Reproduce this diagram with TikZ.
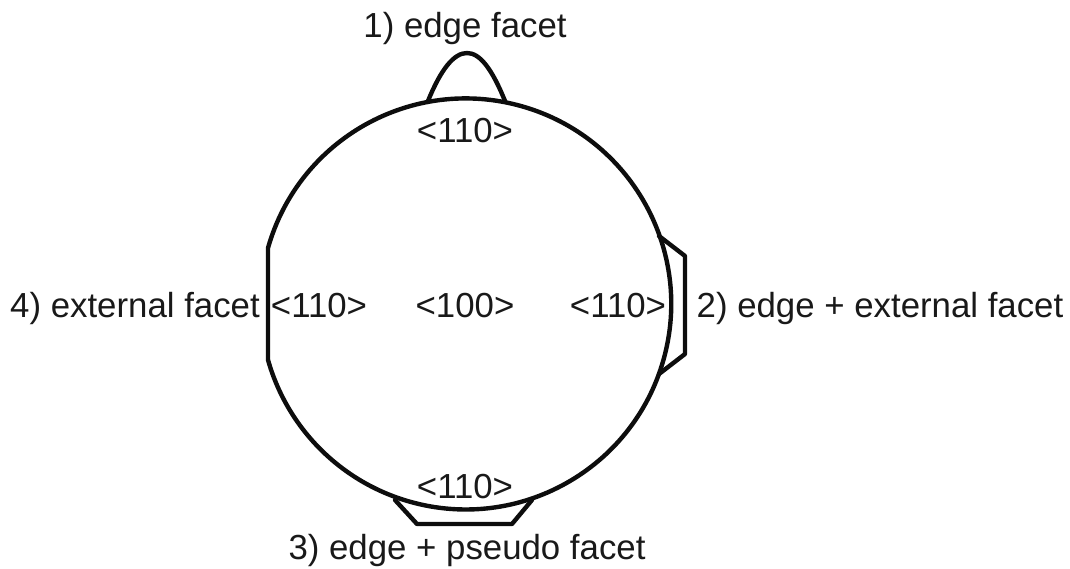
\documentclass[tikz,border=0pt]{standalone}
\usepackage{fontspec}
\setmainfont{Liberation Sans}
\tikzset{
  facet/.style={line width=4.4pt,line join=round,line cap=round,black!95},
  lab/.style={font=\fontsize{34.8}{38}\selectfont,text=black!90,inner sep=0pt,anchor=base}
}
\begin{document}
\begin{tikzpicture}[x=1pt,y=1pt]
\useasboundingbox (0,0) rectangle (1070,568);
% main crystal outline with flat left side
\draw[facet] (268,320) arc[start angle=164.2,end angle=-164.2,radius=205.5] -- cycle;
% 1) edge facet
\draw[facet] (428,467) .. controls (441,499) and (454,515) .. (467,515) .. controls (480,515) and (492,499) .. (505,467);
% 2) edge + external facet
\draw[facet] (659,332) -- (685,312) -- (685,214) -- (659,194);
% 3) edge + pseudo facet
\draw[facet] (395,68) -- (417,44) -- (512,44) -- (532,68);
\node[lab] (t1) at (465,530) {1) edge facet};
\node[lab] (t2) at (880,251) {2) edge + external facet};
\node[lab] (t3) at (467,9) {3) edge + pseudo facet};
\node[lab] (t4) at (135,251) {4) external facet};
\node[lab] (a) at (465,425) {<110>};
\node[lab] (b) at (465,251) {<100>};
\node[lab] (c) at (319,251) {<110>};
\node[lab] (d) at (618,251) {<110>};
\node[lab] (e) at (465,70) {<110>};
\end{tikzpicture}
\end{document}
